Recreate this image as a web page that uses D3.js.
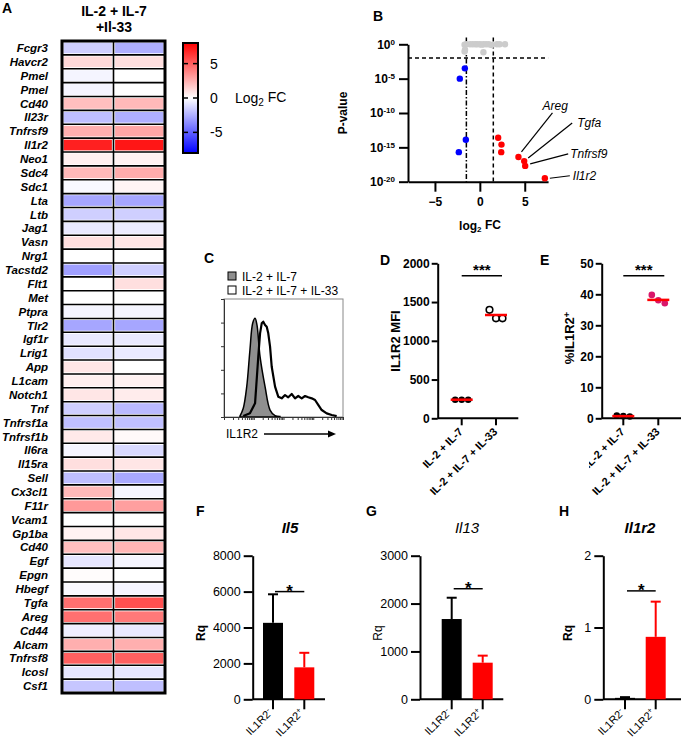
<!DOCTYPE html>
<html><head><meta charset="utf-8">
<script src="https://cdn.jsdelivr.net/npm/d3@7"></script>
<style>body{margin:0;background:#fff} svg{display:block} text{font-family:"Liberation Sans",Arial,sans-serif}</style>
</head><body><svg id="c" width="681" height="750"></svg>
<script>
// ---------- DATA ----------
const genes = ["Fcgr3","Havcr2","Pmel","Pmel","Cd40","Il23r","Tnfrsf9","Il1r2","Neo1","Sdc4","Sdc1","Lta","Ltb","Jag1","Vasn","Nrg1","Tacstd2","Flt1","Met","Ptpra","Tlr2","Igf1r","Lrig1","App","L1cam","Notch1","Tnf","Tnfrsf1a","Tnfrsf1b","Il6ra","Il15ra","Sell","Cx3cl1","F11r","Vcam1","Gp1ba","Cd40","Egf","Epgn","Hbegf","Tgfa","Areg","Cd44","Alcam","Tnfrsf8","Icosl","Csf1"];
const fcRep1 = [-1.5,1.2,-0.3,-0.3,2.0,-2.0,2.5,7.0,0.5,2.2,-0.2,-2.8,-1.5,-0.7,1.0,0,-3.0,0,0,-0.3,-2.8,-0.7,-0.9,0.8,0.5,0.8,-1.5,-2.0,0.7,-0.3,1.0,-2.0,2.2,3.2,0,0.4,2.0,-0.8,0.1,-0.2,4.5,4.5,-0.5,2.5,5.0,-0.8,-1.8];
const fcRep2 = [-2.5,1.0,0,0,2.2,-2.5,2.8,7.3,0.4,2.6,0.3,-2.8,-1.5,-0.6,0.8,0,-1.5,1.0,0,-0.3,-2.8,-0.7,-0.7,0,0.4,0.6,-2.2,-2.0,0.2,-1.2,0.8,-2.7,-0.3,3.0,0,0.8,2.3,-0.3,0,-0.3,5.5,4.2,-0.7,2.5,5.0,-0.8,-2.0];
const heatHeader = ["IL-2 + IL-7", "+Il-33"];
const colorbarTicks = [-5, 0, 5];

// volcano: log2 FC and -log10 P
const volGrayFC  = [-1.7,-1.5,-1.1,-0.8,-0.5,-0.3,0,0.2,0.4,0.7,1.0,1.3,1.9,2.2,2.8,-1.65,-1.7,0.4];
const volGrayNLP = [0.05,0,0,0,0,0,0,0.05,0,0,0,0.1,0,0,0,0.8,1.05,1.15];
const volBlueFC  = [-1.67,-2.23,-1.56,-2.34];
const volBlueNLP = [3.5,5.0,13.9,15.7];
const volRedFC   = [2.04,2.41,2.38,4.3,4.94,5.05,7.24];
const volRedNLP  = [13.6,14.6,15.7,16.4,17.0,17.7,19.5];
const volRedName = ["","","","Areg","Tgfa","Tnfrsf9","Il1r2"];
const volYTicks = [0,5,10,15,20];
const volXTicks = [-5,0,5];

// histogram (fluorescence bin 0-100, % of max)
const histCtrlX = [13.4,16.2,19.1,21.8,24.1,26.1,27.7,30.3,34.5,38.7,42.9,47];
const histCtrlY = [0.8,7.4,25.7,56.8,79.4,83.6,78,51.1,25.7,5.9,1.1,0.4];
const histIL33X = [16.2,21.8,26.1,28.8,30.3,31.7,33,34.5,35.9,37.2,38.7,40.1,42.9,45.6,48.5,51.3,54,56.9,59.7,62.4,65.3,68.1,70.8,73.7,76.5,79.2,82.1,86.3,90.5,94.7];
const histIL33Y = [0.8,3.1,11.6,51.1,70.9,79.4,80.8,78,76.5,70.9,59.6,42.6,25.7,17.2,15.8,18.6,16.7,19.5,15.8,17.8,15.8,17.8,16.7,15.8,14.4,10.2,5.9,3.1,1.7,0.8];
const histLegend = ["IL-2 + IL-7", "IL-2 + IL-7 + IL-33"];

// D / E
const groups = ["IL-2 + IL-7", "IL-2 + IL-7 + IL-33"];
const mfiCtrl = [240,240,240];
const mfiIL33 = [1400,1290,1290];
const mfiMean = [240,1333];
const mfiTicks = [0,500,1000,1500,2000];
const pctCtrl = [0.9,0.7,0.6];
const pctIL33 = [39.8,38.1,37.1];
const pctMean = [0.7,38.2];
const pctTicks = [0,10,20,30,40,50];

// F G H
const rqGroups = ["IL1R2-", "IL1R2+"];
const il5Mean = [4260,1780], il5Upper = [5850,2590], il5Ticks = [0,2000,4000,6000,8000];
const il13Mean = [1677,765], il13Upper = [2122,912], il13Ticks = [0,1000,2000,3000];
const il1r2Mean = [0.02,0.87], il1r2Upper = [0.03,1.36], il1r2Ticks = [0,1,2];

// ---------- DRAW ----------
const svg = d3.select("#c");
function T(g, x, y, s, o={}) {
  const t = g.append("text").attr("x", x).attr("y", y).text(s)
    .attr("font-size", o.fs || 12).attr("font-weight", o.fw || "normal")
    .attr("font-style", o.it ? "italic" : "normal")
    .attr("text-anchor", o.anchor || "start").attr("fill", o.fill || "#000");
  if (o.dy) t.attr("dy", o.dy);
  if (o.rot) t.attr("transform", `rotate(${o.rot},${x},${y})`);
  return t;
}
function letter(x, y, s) { T(svg, x, y, s, {fs: 14, fw: "bold"}); }

// ===== Panel A =====
letter(2, 13, "A");
T(svg, 114, 16, heatHeader[0], {fs: 14, fw: "bold", anchor: "middle"});
T(svg, 114, 32, heatHeader[1], {fs: 14, fw: "bold", anchor: "middle"});
const hx = d3.scaleBand().domain([0,1]).range([62,165]);
const hy = d3.scaleBand().domain(d3.range(genes.length)).range([41,693]);
const heatColor = d3.scaleLinear().domain([-8,0,8]).range(["#0000ff","#ffffff","#ff0000"]);
const gA = svg.append("g");
const cells = [];
genes.forEach((g,i) => { cells.push({i, j:0, v: fcRep1[i]}); cells.push({i, j:1, v: fcRep2[i]}); });
gA.selectAll("rect.cell").data(cells).join("rect").attr("class","cell")
  .attr("x", d => hx(d.j) + 1.6).attr("y", d => hy(d.i) + 1.6)
  .attr("width", hx.bandwidth() - 3.2).attr("height", hy.bandwidth() - 3.2)
  .attr("fill", d => heatColor(d.v));
gA.selectAll("line.hl").data(d3.range(1, genes.length)).join("line")
  .attr("x1", 62).attr("x2", 165).attr("y1", d => hy(d)).attr("y2", d => hy(d))
  .attr("stroke", "#000").attr("stroke-width", 1.6);
gA.append("line").attr("x1", hx(1)).attr("x2", hx(1)).attr("y1", 41).attr("y2", 693).attr("stroke","#000").attr("stroke-width",1.6);
gA.append("rect").attr("x", 62).attr("y", 41).attr("width", 103).attr("height", 652).attr("fill","none").attr("stroke","#000").attr("stroke-width",3);
gA.selectAll("text.gene").data(genes).join("text").attr("class","gene")
  .attr("x", 48).attr("y", (d,i) => hy(i) + hy.bandwidth()/2).attr("dy", "0.36em")
  .attr("text-anchor","end").attr("font-size", 11.5).attr("font-weight","bold").attr("font-style","italic")
  .text(d => d);
// colorbar
const defs = svg.append("defs");
const grad = defs.append("linearGradient").attr("id","cbg").attr("x1",0).attr("x2",0).attr("y1",1).attr("y2",0);
grad.append("stop").attr("offset","0%").attr("stop-color", heatColor(-8));
grad.append("stop").attr("offset","50%").attr("stop-color", heatColor(0));
grad.append("stop").attr("offset","100%").attr("stop-color", heatColor(8));
const cb = d3.scaleLinear().domain([-8,8]).range([153,43]);
svg.append("rect").attr("x",183).attr("y",cb(8)).attr("width",15).attr("height",cb(-8)-cb(8)).attr("fill","url(#cbg)").attr("stroke","#000").attr("stroke-width",2);
colorbarTicks.forEach(t => {
  svg.append("line").attr("x1",183).attr("x2",188).attr("y1",cb(t)).attr("y2",cb(t)).attr("stroke","#000").attr("stroke-width",1.5);
  svg.append("line").attr("x1",193).attr("x2",198).attr("y1",cb(t)).attr("y2",cb(t)).attr("stroke","#000").attr("stroke-width",1.5);
  T(svg, 210, cb(t), String(t), {fs: 14, dy: "0.36em"});
});
const lg = T(svg, 235, cb(0), "Log", {fs: 14, dy: "0.36em"});
lg.append("tspan").attr("font-size", 10).attr("dy", "0.3em").text("2");
lg.append("tspan").attr("dy", "-0.3em").text(" FC");

// ===== Panel B =====
letter(373, 21, "B");
const vx = d3.scaleLinear().domain([-8, 7.6]).range([408, 408 + 15.6*8.98]);
const vy = d3.scaleLinear().domain([0, 20]).range([44.3, 181.7]);
const gB = svg.append("g");
const xaxB = gB.append("g").attr("transform", `translate(0,${vy(20)})`)
  .call(d3.axisBottom(vx).tickValues(volXTicks).tickSize(10).tickPadding(6).tickSizeOuter(0).tickFormat(d3.format("d")));
const yaxB = gB.append("g").attr("transform", `translate(${vx(-8)},0)`)
  .call(d3.axisLeft(vy).tickValues(volYTicks).tickSize(9).tickPadding(4).tickSizeOuter(0));
[xaxB, yaxB].forEach(a => {
  a.select(".domain").attr("stroke-width", 2);
  a.selectAll(".tick line").attr("stroke-width", 2);
  a.selectAll("text").attr("font-size", 12).attr("font-weight", "bold").attr("font-family", '"Liberation Sans",Arial,sans-serif');
});
yaxB.selectAll(".tick text").each(function(d){
  const t = d3.select(this); t.text("10");
  t.append("tspan").attr("dy","-0.5em").attr("font-size", 8).text(d === 0 ? "0" : "-" + d);
});
// threshold lines
gB.append("line").attr("x1", vx(-8)).attr("x2", vx(7.6)).attr("y1", vy(2)).attr("y2", vy(2)).attr("stroke","#000").attr("stroke-width",1.5).attr("stroke-dasharray","4,3");
gB.append("line").attr("x1", vx(1.5)).attr("x2", vx(1.5)).attr("y1", vy(-1)).attr("y2", vy(20)).attr("stroke","#000").attr("stroke-width",1.5).attr("stroke-dasharray","4,3");
gB.append("line").attr("x1", vx(-1.5)).attr("x2", vx(-1.5)).attr("y1", vy(-1)).attr("y2", vy(20)).attr("stroke","#000").attr("stroke-width",1.5).attr("stroke-dasharray","5,2,1.5,2");
gB.selectAll("circle.g").data(volGrayFC).join("circle").attr("cx", d => vx(d)).attr("cy", (d,i) => vy(volGrayNLP[i])).attr("r", 3.2).attr("fill", "#cccccc");
gB.selectAll("circle.b").data(volBlueFC).join("circle").attr("cx", d => vx(d)).attr("cy", (d,i) => vy(volBlueNLP[i])).attr("r", 3.2).attr("fill", "#0000ff");
gB.selectAll("circle.r").data(volRedFC).join("circle").attr("cx", d => vx(d)).attr("cy", (d,i) => vy(volRedNLP[i])).attr("r", 3.2).attr("fill", "#ff0000");
// annotation offsets (px) per labelled gene
const annot = {Areg:[3,-5,34,-44,24,-47], Tgfa:[4,-3,48,-38,53,-34], Tnfrsf9:[5,-2,43,-12,45,-8], Il1r2:[5,0,25,-2.5,28,1.5]};
volRedName.forEach((n,i) => {
  if (!n) return;
  const px = vx(volRedFC[i]), py = vy(volRedNLP[i]), a = annot[n];
  gB.append("line").attr("x1", px+a[0]).attr("y1", py+a[1]).attr("x2", px+a[2]).attr("y2", py+a[3]).attr("stroke","#000").attr("stroke-width",1.2);
  T(gB, px+a[4], py+a[5], n, {fs: 12, it: true});
});
T(svg, 347, 113, "P-value", {fs: 12, fw: "bold", anchor: "middle", rot: -90});
const xl = T(svg, 480, 230, "log", {fs: 12, fw: "bold", anchor: "middle"});
xl.append("tspan").attr("font-size", 8).attr("dy","0.3em").text("2");
xl.append("tspan").attr("dy","-0.3em").text("  FC");

// ===== Panel C =====
letter(204, 263, "C");
const hxs = d3.scaleLinear().domain([0,100]).range([224,343]);
const hys = d3.scaleLinear().domain([0,100]).range([417,299]);
const gC = svg.append("g");
gC.append("rect").attr("x",224).attr("y",299).attr("width",119).attr("height",118).attr("fill","none").attr("stroke","#888").attr("stroke-width",1);
const ctrl = histCtrlX.map((x,i) => [x, histCtrlY[i]]);
const il33 = histIL33X.map((x,i) => [x, histIL33Y[i]]);
gC.append("path").datum(ctrl).attr("d", d3.area().x(d => hxs(d[0])).y0(hys(0)).y1(d => hys(d[1])).curve(d3.curveCatmullRom))
  .attr("fill","#8f8f8f").attr("stroke","#000").attr("stroke-width",1.5);
gC.append("path").datum(il33).attr("d", d3.line().x(d => hxs(d[0])).y(d => hys(d[1])).curve(d3.curveLinear))
  .attr("fill","none").attr("stroke","#000").attr("stroke-width",2.2).attr("stroke-linejoin","round");
const lax = gC.append("g").attr("transform","translate(224,0)").call(d3.axisLeft(hys).tickValues([0,20,40,60,80,100]).tickSize(3).tickFormat(""));
lax.select(".domain").attr("stroke","#333");
const logTick = d3.scaleLog().domain([10, 1e5]).range([224,343]);
const bax = gC.append("g").attr("transform","translate(0,417)").call(d3.axisBottom(logTick).tickSize(3).tickFormat("").tickSizeOuter(0));
bax.select(".domain").attr("stroke","#333");
gC.selectAll(".tick line").attr("stroke","#333");
gC.append("rect").attr("x",228).attr("y",272).attr("width",8).attr("height",8).attr("fill","#8f8f8f").attr("stroke","#000").attr("stroke-width",1);
gC.append("rect").attr("x",228).attr("y",286).attr("width",8).attr("height",8).attr("fill","#fff").attr("stroke","#000").attr("stroke-width",1);
T(gC, 242, 280.5, histLegend[0], {fs: 12});
T(gC, 242, 294.5, histLegend[1], {fs: 12});
T(gC, 226, 438, "IL1R2", {fs: 12});
gC.append("line").attr("x1",264).attr("x2",330).attr("y1",434).attr("y2",434).attr("stroke","#000").attr("stroke-width",1.5);
gC.append("path").attr("d","M328,430.5 L336,434 L328,437.5 Z").attr("fill","#000");

// ===== helpers for D-H =====
function styleAxis(a, fs, fw) {
  a.select(".domain").attr("stroke-width", 2);
  a.selectAll(".tick line").attr("stroke-width", 2);
  a.selectAll("text").attr("font-size", fs).attr("font-weight", fw).attr("font-family", '"Liberation Sans",Arial,sans-serif');
}
function rotLabels(g, xs, cats, y, fs, fw, dx) {
  cats.forEach(c => {
    const x = xs(c) + dx;
    const t = g.append("text").attr("transform", `translate(${x},${y}) rotate(-45)`).attr("text-anchor","end")
      .attr("font-size", fs).attr("font-weight", fw);
    if (/IL1R2[+-]$/.test(c)) {
      t.text("IL1R2");
      t.append("tspan").attr("font-size", fs*0.7).attr("dy", "-0.5em").text(c.slice(-1) === "-" ? "-" : "+");
    } else t.text(c);
  });
}
function scatterPanel(o) {
  const g = svg.append("g");
  const y = d3.scaleLinear().domain(o.ydom).range([418.3, 263.3]);
  const x = d3.scalePoint().domain(groups).range(o.xr);
  const ya = g.append("g").attr("transform", `translate(${o.ax},0)`).call(d3.axisLeft(y).tickValues(o.ticks).tickSize(6).tickPadding(2).tickSizeOuter(0).tickFormat(d3.format("d")));
  styleAxis(ya, 12, "bold");
  g.append("line").attr("x1", o.ax).attr("x2", o.axEnd).attr("y1", y(0)).attr("y2", y(0)).attr("stroke","#000").attr("stroke-width",2);
  groups.forEach(c => g.append("line").attr("x1", x(c)).attr("x2", x(c)).attr("y1", y(0)).attr("y2", y(0)+7).attr("stroke","#000").attr("stroke-width",2));
  const off = [-6.5, 0, 6.5];
  o.v1.forEach((v,i) => g.append("circle").attr("cx", x(groups[0]) + off[i]).attr("cy", y(v)).attr("r", 3.3).attr("fill", "#000"));
  o.v2.forEach((v,i) => g.append("circle").attr("cx", x(groups[1]) + off[i]).attr("cy", y(v)).attr("r", 3.3)
    .attr("fill", o.open ? "#fff" : o.c2).attr("stroke", o.open ? "#000" : "none").attr("stroke-width", 1.6));
  o.mean.forEach((m,i) => g.append("line").attr("x1", x(groups[i]) - 11).attr("x2", x(groups[i]) + 11).attr("y1", y(m)).attr("y2", y(m)).attr("stroke","#ff0000").attr("stroke-width",2.5));
  g.append("line").attr("x1", x(groups[0])).attr("x2", x(groups[1]) + 6).attr("y1", y(o.sig)).attr("y2", y(o.sig)).attr("stroke","#000").attr("stroke-width",1.5);
  T(g, (x(groups[0]) + x(groups[1]) + 6)/2, y(o.sig) - 1, "***", {fs: 15, fw: "bold", anchor: "middle"});
  const lab = g.append("g");
  if (o.clip) lab.attr("clip-path", "url(#" + o.clip + ")");
  rotLabels(lab, x, groups, y(0) + 14, 11, "bold", 2);
  return {g, x, y};
}
// ===== Panel D =====
letter(380, 265, "D");
scatterPanel({ydom:[0,2000], ticks: mfiTicks, xr:[461.7,496], ax:437.7, axEnd:518.3, v1: mfiCtrl, v2: mfiIL33, mean: mfiMean, open: true, sig: 1840});
T(svg, 400, 341, "IL1R2 MFI", {fs: 13, fw: "bold", anchor: "middle", rot: -90});
// ===== Panel E =====
letter(540, 265, "E");
defs.append("clipPath").attr("id","clipE").append("rect").attr("x",589).attr("y",380).attr("width",100).attr("height",140);
scatterPanel({ydom:[0,50], ticks: pctTicks, xr:[623.3,658.3], ax:601.7, axEnd:681, v1: pctCtrl, v2: pctIL33, mean: pctMean, open: false, c2: "#d9176a", sig: 46, clip: "clipE"});
const el = T(svg, 574, 338, "%IL1R2", {fs: 13, fw: "bold", anchor: "middle", rot: -90});
el.append("tspan").attr("font-size", 9).attr("dy", "-0.5em").text("+");

// ===== bar panels =====
function barPanel(o) {
  const g = svg.append("g");
  const y = d3.scaleLinear().domain([0, o.ticks[o.ticks.length-1]]).range([699.3, 555.7]);
  const x = d3.scalePoint().domain(rqGroups).range(o.xr);
  const ya = g.append("g").attr("transform", `translate(${o.ax},0)`).call(d3.axisLeft(y).tickValues(o.ticks).tickSize(9).tickPadding(3).tickSizeOuter(0).tickFormat(d3.format("d")));
  styleAxis(ya, 12.5, "normal");
  g.append("line").attr("x1", o.ax).attr("x2", o.axEnd).attr("y1", y(0)).attr("y2", y(0)).attr("stroke","#000").attr("stroke-width",2);
  rqGroups.forEach(c => g.append("line").attr("x1", x(c)).attr("x2", x(c)).attr("y1", y(0)).attr("y2", y(0)+10).attr("stroke","#000").attr("stroke-width",2));
  const cols = ["#000000", "#ff0000"];
  rqGroups.forEach((c,i) => {
    const cx = x(c);
    g.append("line").attr("x1", cx).attr("x2", cx).attr("y1", y(o.mean[i])).attr("y2", y(o.upper[i])).attr("stroke", cols[i]).attr("stroke-width", 2);
    g.append("line").attr("x1", cx-5).attr("x2", cx+5).attr("y1", y(o.upper[i])).attr("y2", y(o.upper[i])).attr("stroke", cols[i]).attr("stroke-width", 2);
    g.append("rect").attr("x", cx - 10).attr("y", y(o.mean[i])).attr("width", 20).attr("height", y(0) - y(o.mean[i])).attr("fill", cols[i]);
  });
  const x1 = x(rqGroups[0]) + 2, x2 = x(rqGroups[1]);
  g.append("line").attr("x1", x1).attr("x2", x2).attr("y1", y(o.sig)).attr("y2", y(o.sig)).attr("stroke","#000").attr("stroke-width",1.5);
  T(g, (x1+x2)/2, y(o.sig) + 5, "*", {fs: 17, fw: "bold", anchor: "middle"});
  rotLabels(g, x, rqGroups, y(0) + 14, 11, "normal", 0);
  T(g, o.titleX, 533, o.title, {fs: 15, fw: o.titleBold ? "bold" : "normal", it: true, anchor: "middle"});
  T(g, o.rqX, 633, "Rq", {fs: 12, fw: o.rqBold ? "bold" : "normal", anchor: "middle", rot: -90});
}
letter(196, 516, "F");
barPanel({ticks: il5Ticks, mean: il5Mean, upper: il5Upper, xr:[273,304.3], ax:252.7, axEnd:325, sig: 6000, title:"Il5", titleBold:true, titleX:290, rqX:205, rqBold:true});
letter(366, 516, "G");
barPanel({ticks: il13Ticks, mean: il13Mean, upper: il13Upper, xr:[451.7,482.7], ax:420, axEnd:503.3, sig: 2310, title:"Il13", titleBold:false, titleX:467, rqX:382, rqBold:false});
letter(559, 516, "H");
barPanel({ticks: il1r2Ticks, mean: il1r2Mean, upper: il1r2Upper, xr:[625,655.7], ax:603.3, axEnd:681, sig: 1.51, title:"Il1r2", titleBold:true, titleX:640, rqX:572, rqBold:true});
</script></body></html>
